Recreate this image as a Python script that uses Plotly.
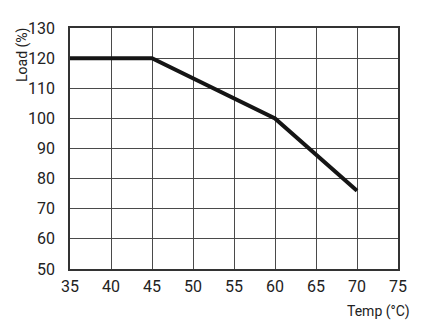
import plotly.graph_objects as go

# Derating curve: load vs ambient temperature
temps = [35, 45, 60, 70]
loads = [120, 120, 100, 76]

x_ticks = [35, 40, 45, 50, 55, 60, 65, 70, 75]
y_ticks = [50, 60, 70, 80, 90, 100, 110, 120, 130]

FONT = "Roboto, sans-serif"

L, R, T, B = 70, 27, 28, 61
W, H = 425, 330
pw, ph = W - L - R, H - T - B

fig = go.Figure()
fig.add_trace(go.Scatter(
    x=temps, y=loads, mode="lines",
    line=dict(color="#151515", width=4),
    showlegend=False, cliponaxis=False,
))

axis_common = dict(
    showgrid=True, gridcolor="#4a4a4a", gridwidth=1,
    showline=True, linecolor="#333333", linewidth=1.5, mirror=True,
    ticks="", zeroline=False,
    tickfont=dict(family=FONT, size=16, color="#222222"),
)

fig.update_xaxes(range=[35, 75], tickvals=x_ticks, ticklabelstandoff=2, **axis_common)
fig.update_yaxes(range=[50, 130], tickvals=y_ticks, ticklabelstandoff=10, **axis_common)

# rotated y-axis title, positioned in pixels from the top-left corner
fig.add_annotation(
    text="Load (%)", xref="paper", yref="paper",
    x=(22 - L) / pw, y=(H - B - 55) / ph,
    showarrow=False, textangle=-90,
    font=dict(family=FONT, size=14, color="#222222"),
    xanchor="center", yanchor="middle",
)
fig.add_annotation(
    text="Temp (°C)", xref="paper", yref="paper",
    x=(378 - L) / pw, y=-(311 - (H - B)) / ph,
    showarrow=False,
    font=dict(family=FONT, size=14, color="#222222"),
    xanchor="center", yanchor="middle",
)

fig.update_layout(
    width=W, height=H,
    margin=dict(l=L, r=R, t=T, b=B),
    paper_bgcolor="white", plot_bgcolor="white",
)

fig.write_html("out.html")
